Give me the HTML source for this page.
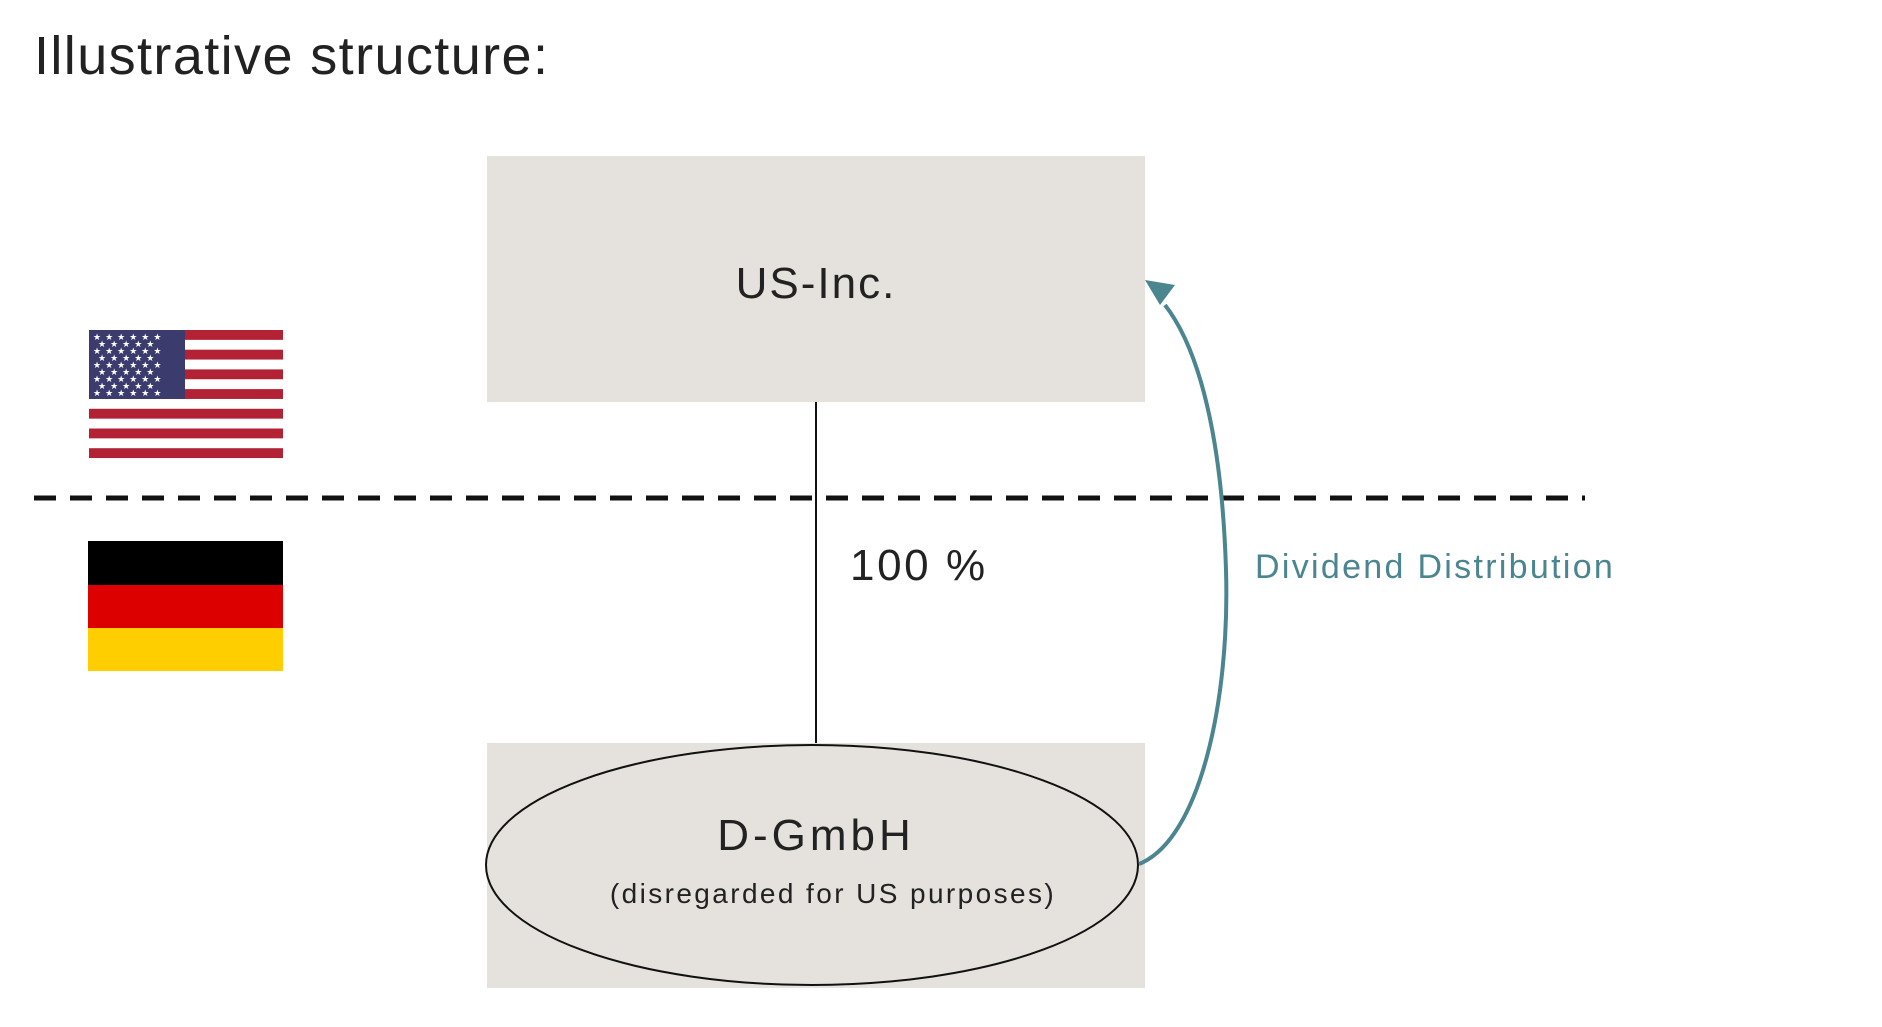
<!DOCTYPE html>
<html><head><style>
body{margin:0;width:1882px;height:1022px;background:#fff;overflow:hidden;font-family:"Liberation Sans",sans-serif}
</style></head><body>
<svg width="1882" height="1022" xmlns="http://www.w3.org/2000/svg" font-family="Liberation Sans, sans-serif">
<text x="34" y="74" font-size="54" fill="#222" letter-spacing="1.4">Illustrative structure:</text>
<rect x="487" y="156" width="658" height="246" fill="#e5e2dd"/>
<rect x="487" y="743" width="658" height="245" fill="#e5e2dd"/>
<text x="816" y="298" font-size="44" text-anchor="middle" fill="#222" letter-spacing="2">US-Inc.</text>
<line x1="816" y1="402" x2="816" y2="743" stroke="#111" stroke-width="2"/>
<line x1="34" y1="498" x2="1585" y2="498" stroke="#111" stroke-width="5" stroke-dasharray="22,14"/>
<text x="850" y="580" font-size="44" fill="#222" letter-spacing="2.6">100 %</text>
<text x="1255" y="578" font-size="34" fill="#4a8590" letter-spacing="2.3">Dividend Distribution</text>
<ellipse cx="812" cy="865" rx="326" ry="120" fill="#e5e2dd" stroke="#111" stroke-width="2"/>
<text x="816" y="850" font-size="44" text-anchor="middle" fill="#222" letter-spacing="4">D-GmbH</text>
<text x="833" y="903" font-size="28" text-anchor="middle" fill="#222" letter-spacing="2.4">(disregarded for US purposes)</text>
<path d="M1139,864 C1200,840 1230,700 1226,570 C1222,440 1200,350 1165,305" fill="none" stroke="#4a8590" stroke-width="4"/>
<polygon points="1145,280 1175,285 1160,305" fill="#4a8590"/>
<g>
<rect x="89" y="330" width="194" height="128" fill="#fff"/>
<g fill="#b22234">
<rect x="89" y="330" width="194" height="9.85"/><rect x="89" y="349.7" width="194" height="9.85"/><rect x="89" y="369.4" width="194" height="9.85"/><rect x="89" y="389.1" width="194" height="9.85"/><rect x="89" y="408.8" width="194" height="9.85"/><rect x="89" y="428.5" width="194" height="9.85"/><rect x="89" y="448.2" width="194" height="9.85"/>
</g>
<rect x="89" y="330" width="96" height="69" fill="#3c3b6e"/>
<g fill="#fff" font-size="9">
<text x="93" y="340" letter-spacing="4">★★★★★★</text><text x="98" y="347" letter-spacing="4">★★★★★</text><text x="93" y="354" letter-spacing="4">★★★★★★</text><text x="98" y="361" letter-spacing="4">★★★★★</text><text x="93" y="368" letter-spacing="4">★★★★★★</text><text x="98" y="375" letter-spacing="4">★★★★★</text><text x="93" y="382" letter-spacing="4">★★★★★★</text><text x="98" y="389" letter-spacing="4">★★★★★</text><text x="93" y="396" letter-spacing="4">★★★★★★</text>
</g>
</g>
<rect x="88" y="541" width="195" height="44" fill="#000"/>
<rect x="88" y="585" width="195" height="43" fill="#dd0000"/>
<rect x="88" y="628" width="195" height="43" fill="#ffce00"/>
</svg>
</body></html>
